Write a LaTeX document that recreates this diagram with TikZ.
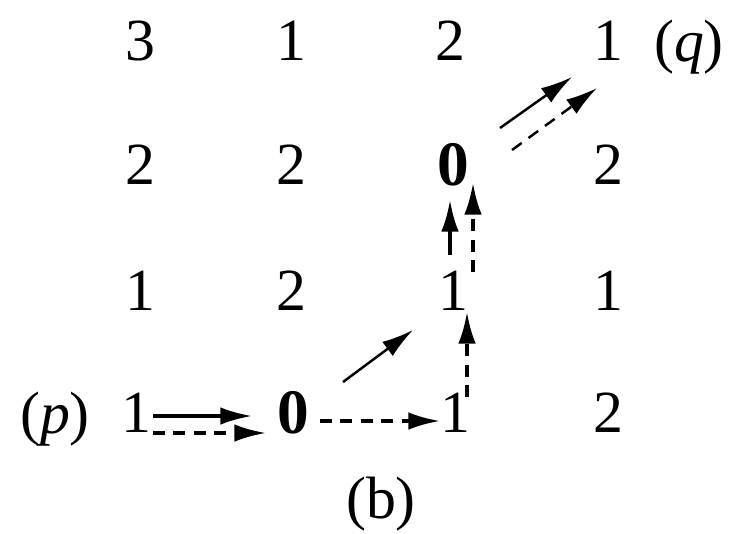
\documentclass[tikz,border=0pt]{standalone}
\usepackage{fontspec}
\setmainfont{Liberation Serif}
\usetikzlibrary{calc, arrows.meta}

\begin{document}
\begin{tikzpicture}[x=0.01cm, y=-0.01cm,
        every node/.style={inner sep=0pt, font=\fontsize{17}{20}\selectfont},
        hot/.style={font=\fontsize{18}{20}\selectfont\bfseries},
        walk/.style={-{Latex[length=9pt, width=5pt]}, line width=1pt},
        scan/.style={walk, dash pattern=on 3.4pt off 2.4pt}]
        \useasboundingbox (0,0) rectangle (740,533);

        % grid of values
        \node (a1) at (140,41) {3};
        \node (a2) at (291,41) {1};
        \node (a3) at (450,41) {2};
        \node (a4) at (608,41) {1};
        \node (b1) at (140,165) {2};
        \node (b2) at (291,165) {2};
        \node[hot] (b3) at (453,165) {0};
        \node (b4) at (608,165) {2};
        \node (c1) at (140,291) {1};
        \node (c2) at (291,291) {2};
        \node (c3) at (453,291) {1};
        \node (c4) at (608,291) {1};
        \node (d1) at (136,413) {1};
        \node[hot] (d2) at (293,413) {0};
        \node (d3) at (455,413) {1};
        \node (d4) at (608,413) {2};

        \node[anchor=base] (plab) at (55,433) {(\textit{p})};
        \node[anchor=base] (qlab) at (689,61) {(\textit{q})};
        \node (cap) at (381,504) {(b)};

        \draw[walk] ($(d1)+(17,3)$) -- ($(d2)+(-41,3)$);
        \draw[scan] ($(d1)+(17,20)$) -- ($(d2)+(-27,20)$);
        \draw[scan] ($(d2)+(27,8)$) -- ($(d3)+(-15,8)$);
        \draw[walk, line width=0.7pt] ($(d2)+(50,-31)$) -- ($(c3)+(-40,39)$);
        \draw[scan] ($(d3)+(12,-16)$) -- ($(c3)+(14,21)$);
        \draw[walk] ($(c3)+(-3,-36)$) -- ($(b3)+(-3,35)$);
        \draw[scan] ($(c3)+(20,-19)$) -- ($(b3)+(20,18)$);
        \draw[walk, line width=0.7pt] ($(b3)+(47,-37)$) -- ($(a4)+(-36,36)$);
        \draw[scan, line width=0.7pt] ($(b3)+(59,-15)$) -- ($(a4)+(-11,47)$);
      \end{tikzpicture}
\end{document}
